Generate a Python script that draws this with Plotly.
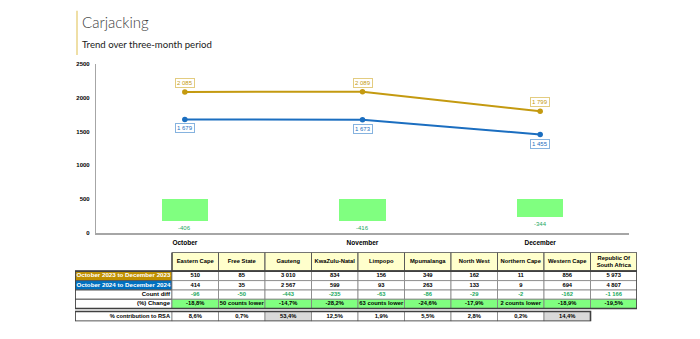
import plotly.graph_objects as go

# ---------------- data ----------------
months = ["October", "November", "December"]
y2023 = [2085, 2089, 1799]
y2024 = [1679, 1673, 1455]
bar_low = [175, 175, 235]
bar_high = [500, 500, 500]

provinces = ["Eastern Cape", "Free State", "Gauteng", "KwaZulu-Natal", "Limpopo",
             "Mpumalanga", "North West", "Northern Cape", "Western Cape",
             "Republic Of<br>South Africa"]
tot2023 = [510, 85, 3010, 834, 156, 349, 162, 11, 856, 5973]
tot2024 = [414, 35, 2567, 599, 93, 263, 133, 9, 694, 4807]
change_text = ["-18,8%", "50 counts lower", "-14,7%", "-28,2%", "63 counts lower",
               "-24,6%", "-17,9%", "2 counts lower", "-18,9%", "-19,5%"]
contrib_text = ["8,6%", "0,7%", "53,4%", "12,5%", "1,9%", "5,5%", "2,8%", "0,2%", "14,4%"]
contrib_highlight = [False, False, True, False, False, False, False, False, True]
row_labels = ["October 2023 to December 2023", "October 2024 to December 2024",
              "Count diff", "(%) Change", "% contribution to RSA"]


def fmt(n):
    return f"{n:,}".replace(",", " ")


month_diff = [b - a for a, b in zip(y2023, y2024)]
count_diff = [b - a for a, b in zip(tot2023, tot2024)]

# ---------------- styles ----------------
W, H = 700, 339
GOLD = "#C49A10"
BLUE = "#1B6EC0"
GOLD_FILL = "#BF9000"
BLUE_FILL = "#0070C0"
GREEN_BAR = "#80FF80"
GREEN_TXT = "#22A860"
TFONT = "Liberation Sans, Arial, sans-serif"

fig = go.Figure()

# floating green bars
fig.add_trace(go.Bar(x=months, y=[h - l for l, h in zip(bar_low, bar_high)], base=bar_low,
                     width=0.26, marker=dict(color=GREEN_BAR, line=dict(width=0)),
                     hoverinfo="skip", showlegend=False))

# lines
fig.add_trace(go.Scatter(x=months, y=y2023, mode="lines+markers",
                         line=dict(color=GOLD, width=2), marker=dict(color=GOLD, size=5.5),
                         showlegend=False, cliponaxis=False))
fig.add_trace(go.Scatter(x=months, y=y2024, mode="lines+markers",
                         line=dict(color=BLUE, width=2), marker=dict(color=BLUE, size=5.5),
                         showlegend=False, cliponaxis=False))

annotations = []
for m, v in zip(months, y2023):
    annotations.append(dict(x=m, y=v, xref="x", yref="y", text=fmt(v), showarrow=False,
                            yshift=9, font=dict(color=GOLD, size=6, family=TFONT),
                            bgcolor="white", bordercolor="#E3CC80", borderwidth=1, borderpad=1))
for m, v in zip(months, y2024):
    annotations.append(dict(x=m, y=v, xref="x", yref="y", text=fmt(v), showarrow=False,
                            yshift=-9, font=dict(color=BLUE, size=6, family=TFONT),
                            bgcolor="white", bordercolor="#86B3DF", borderwidth=1, borderpad=1))
for m, lo, d in zip(months, bar_low, month_diff):
    annotations.append(dict(x=m, y=lo, xref="x", yref="y", text=fmt(d), showarrow=False,
                            yanchor="middle", yshift=-7,
                            font=dict(color=GREEN_TXT, size=6, family=TFONT)))

# titles
annotations.append(dict(x=80 / W, y=1 - 19 / H, xref="paper", yref="paper", xanchor="left",
                        yanchor="middle", text="Carjacking", showarrow=False,
                        font=dict(size=15, color="#404040", family="Lato", weight=300)))
annotations.append(dict(x=80 / W, y=1 - 42 / H, xref="paper", yref="paper", xanchor="left",
                        yanchor="middle", text="Trend over three-month period", showarrow=False,
                        font=dict(size=9.6, color="#1a1a1a", family="Lato")))

shapes = [dict(type="line", xref="paper", yref="paper", x0=77 / W, x1=77 / W,
               y0=1 - 8 / H, y1=1 - 53 / H, line=dict(color="#EFDFA6", width=2))]

# ---------------- table (own axes) ----------------
col_w = [97] + [46.5] * 10
col_edges = [0]
for w in col_w:
    col_edges.append(col_edges[-1] + w)
row_h = [19, 9.6, 9.6, 9.4, 9.4, 3, 10]
row_edges = [0]
for h in row_h:
    row_edges.append(row_edges[-1] + h)
TX0, TY0 = 75, 254  # table origin (px)

tx, ty, tt, tcol, tpos, tsize = [], [], [], [], [], []


def cell(ci, ri, fill, lc="#808080", lw=0.8):
    shapes.append(dict(type="rect", xref="x2", yref="y2", layer="below",
                       x0=col_edges[ci], x1=col_edges[ci + 1],
                       y0=row_edges[ri], y1=row_edges[ri + 1],
                       fillcolor=fill, line=dict(color=lc, width=lw)))


def text(ci, ri, s, color="black", align="center", size=5.8):
    yc = (row_edges[ri] + row_edges[ri + 1]) / 2
    if align == "center":
        xc = (col_edges[ci] + col_edges[ci + 1]) / 2
        pos = "middle center"
    else:
        xc = col_edges[ci + 1] - 2
        pos = "middle left"
    tx.append(xc)
    ty.append(yc)
    tt.append(s)
    tcol.append(color)
    tpos.append(pos)
    tsize.append(size)


# header
for j, p in enumerate(provinces):
    cell(j + 1, 0, "#FFFFCC", "#595959", 1)
    text(j + 1, 0, p)
# label column
cell(0, 1, GOLD_FILL, "#595959", 1)
text(0, 1, row_labels[0], "white", size=6.2)
cell(0, 2, BLUE_FILL, "#595959", 1)
text(0, 2, row_labels[1], "white", size=6.2)
cell(0, 3, "white", "#595959", 1)
text(0, 3, row_labels[2], align="right", size=6)
cell(0, 4, "white", "#595959", 1)
text(0, 4, row_labels[3], align="right", size=6)
# values
for j in range(len(provinces)):
    cell(j + 1, 1, "white")
    text(j + 1, 1, fmt(tot2023[j]))
    cell(j + 1, 2, "white")
    text(j + 1, 2, fmt(tot2024[j]))
    cell(j + 1, 3, "white")
    text(j + 1, 3, fmt(count_diff[j]), GREEN_TXT)
    cell(j + 1, 4, GREEN_BAR)
    text(j + 1, 4, change_text[j])
# outer borders
shapes.append(dict(type="rect", xref="x2", yref="y2", layer="above",
                   x0=col_edges[0], x1=col_edges[-1], y0=row_edges[1], y1=row_edges[5],
                   line=dict(color="#404040", width=1.6)))
shapes.append(dict(type="rect", xref="x2", yref="y2", layer="above",
                   x0=col_edges[1], x1=col_edges[-1], y0=row_edges[0], y1=row_edges[1],
                   line=dict(color="#404040", width=1.2)))
# contribution row
cell(0, 6, "white")
text(0, 6, row_labels[4], align="right", size=5.7)
for j, s in enumerate(contrib_text):
    cell(j + 1, 6, "#D9D9D9" if contrib_highlight[j] else "white")
    text(j + 1, 6, s)
shapes.append(dict(type="rect", xref="x2", yref="y2", layer="above",
                   x0=col_edges[0], x1=col_edges[len(contrib_text) + 1],
                   y0=row_edges[6], y1=row_edges[7],
                   line=dict(color="#404040", width=1.6)))

fig.add_trace(go.Scatter(x=tx, y=ty, text=tt, mode="text", textposition=tpos,
                         textfont=dict(color=tcol, size=tsize, family=TFONT, weight="bold"),
                         xaxis="x2", yaxis="y2", cliponaxis=False, showlegend=False,
                         hoverinfo="skip"))

fig.update_layout(
    width=W, height=H, margin=dict(l=0, r=0, t=0, b=0),
    paper_bgcolor="white", plot_bgcolor="white",
    showlegend=False, bargap=0,
    xaxis=dict(domain=[96 / W, 629 / W], range=[-0.5, 2.5], type="category",
               showline=True, linecolor="#A6A6A6", linewidth=2, showgrid=False,
               zeroline=False, ticks="", ticklabelstandoff=2,
               tickfont=dict(size=6.5, family=TFONT, weight="bold", color="black")),
    yaxis=dict(domain=[1 - 234 / H, 1 - 62 / H], range=[0, 2500], dtick=500,
               showline=True, linecolor="#A6A6A6", linewidth=1.2, showgrid=False,
               zeroline=False, ticks="", ticklabelstandoff=4,
               tickfont=dict(size=6, family=TFONT, weight="bold", color="black")),
    xaxis2=dict(domain=[TX0 / W, (TX0 + col_edges[-1]) / W], range=[0, col_edges[-1]],
                anchor="y2", visible=False, fixedrange=True),
    yaxis2=dict(domain=[1 - (TY0 + row_edges[-1]) / H, 1 - TY0 / H],
                range=[row_edges[-1], 0], anchor="x2", visible=False, fixedrange=True),
    annotations=annotations, shapes=shapes,
)

fig.write_html("out.html")
